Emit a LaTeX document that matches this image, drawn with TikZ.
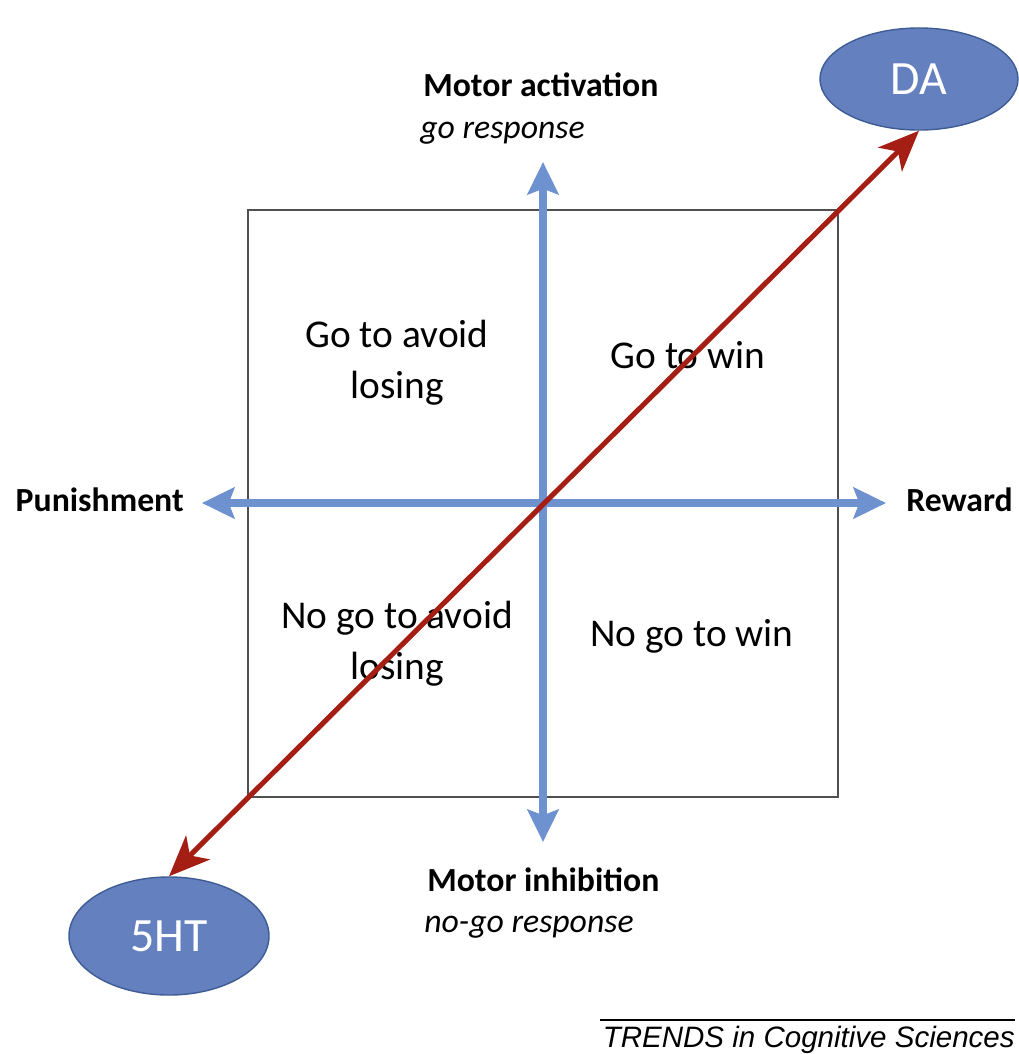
\documentclass[tikz,border=0pt]{standalone}
\usepackage{fontspec}
\setmainfont{Carlito}
\newfontfamily\trendsfont{Liberation Sans}
\usepackage{xcolor}
\usetikzlibrary{arrows.meta, positioning, shapes.geometric}
\definecolor{axisblue}{RGB}{110,145,208}
\definecolor{hormonefill}{RGB}{100,128,190}
\definecolor{hormoneline}{RGB}{62,92,148}
\definecolor{linkred}{RGB}{165,30,20}
\definecolor{boxgray}{RGB}{80,80,80}

\begin{document}
\begin{tikzpicture}[x=0.025cm, y=-0.025cm,
    axis/.style={draw=axisblue, line width=5pt, >={Stealth[length=23pt, width=22pt, inset=4pt]}, <->},
    link/.style={draw=linkred, line width=3.6pt, >={Stealth[length=29pt, width=24pt, inset=8pt]}, <->},
    hormone/.style={ellipse, draw=hormoneline, line width=1pt, fill=hormonefill, text=white,
        inner sep=0pt, font=\fontsize{34}{40}\selectfont},
    quad/.style={align=center, inner sep=0pt, font=\fontsize{28}{36}\selectfont},
    axislabel/.style={inner sep=0pt, font=\fontsize{24}{30}\selectfont\bfseries},
    modelabel/.style={inner sep=0pt, font=\fontsize{24}{30}\selectfont\itshape}]

    \useasboundingbox (0,0) rectangle (1019,1054);

    % Cadre et extrémités des axes
    \node[draw=boxgray, line width=1.9pt, minimum width=14.75cm, minimum height=14.675cm] (field) at (543,503.5) {};
    \coordinate (up) at (543,162);
    \coordinate (down) at (543,842);
    \coordinate (left) at (202,503);
    \coordinate (right) at (886,503);

    % Neuromodulateurs
    \node[hormone, minimum width=4.95cm, minimum height=2.55cm] (DA) at (919,79) {DA};
    \node[hormone, minimum width=5.0cm, minimum height=2.95cm] (HT) at (169,936) {5HT};

    % Textes des quadrants
    \node[quad] (avoidgo) at (397,363) {Go to avoid\\losing};
    \node[quad] (wingo) at (688,355) {Go to win};
    \node[quad] (avoidnogo) at (397,644) {No go to avoid\\losing};
    \node[quad] (winnogo) at (692,636) {No go to win};

    % Etiquettes des axes
    \node[axislabel, anchor=base west] (act) at (423,96) {Motor activation};
    \node[modelabel, anchor=base west] (go) at (420,138) {go response};
    \node[axislabel, anchor=base west] (inh) at (427,891) {Motor inhibition};
    \node[modelabel, anchor=base west] (nogo) at (424,932) {no-go response};
    \node[axislabel, anchor=east] (pun) at (184,500) {Punishment};
    \node[axislabel, anchor=west] (rew) at (906,500) {Reward};

    % Axes et lien DA / 5HT
    \path
    (down) edge[axis] (up)
    (left) edge[axis] (right)
    (HT.north) edge[link] (DA.south);

    % Source
    \coordinate (ruleA) at (600,1020);
    \coordinate (ruleB) at (1015,1020);
    \draw[line width=1.4pt] (ruleA) -- (ruleB);
    \node[anchor=base east, inner sep=0pt, font=\trendsfont\itshape\fontsize{21}{25}\selectfont] (src) at (1015,1047) {TRENDS in Cognitive Sciences};

\end{tikzpicture}
\end{document}
